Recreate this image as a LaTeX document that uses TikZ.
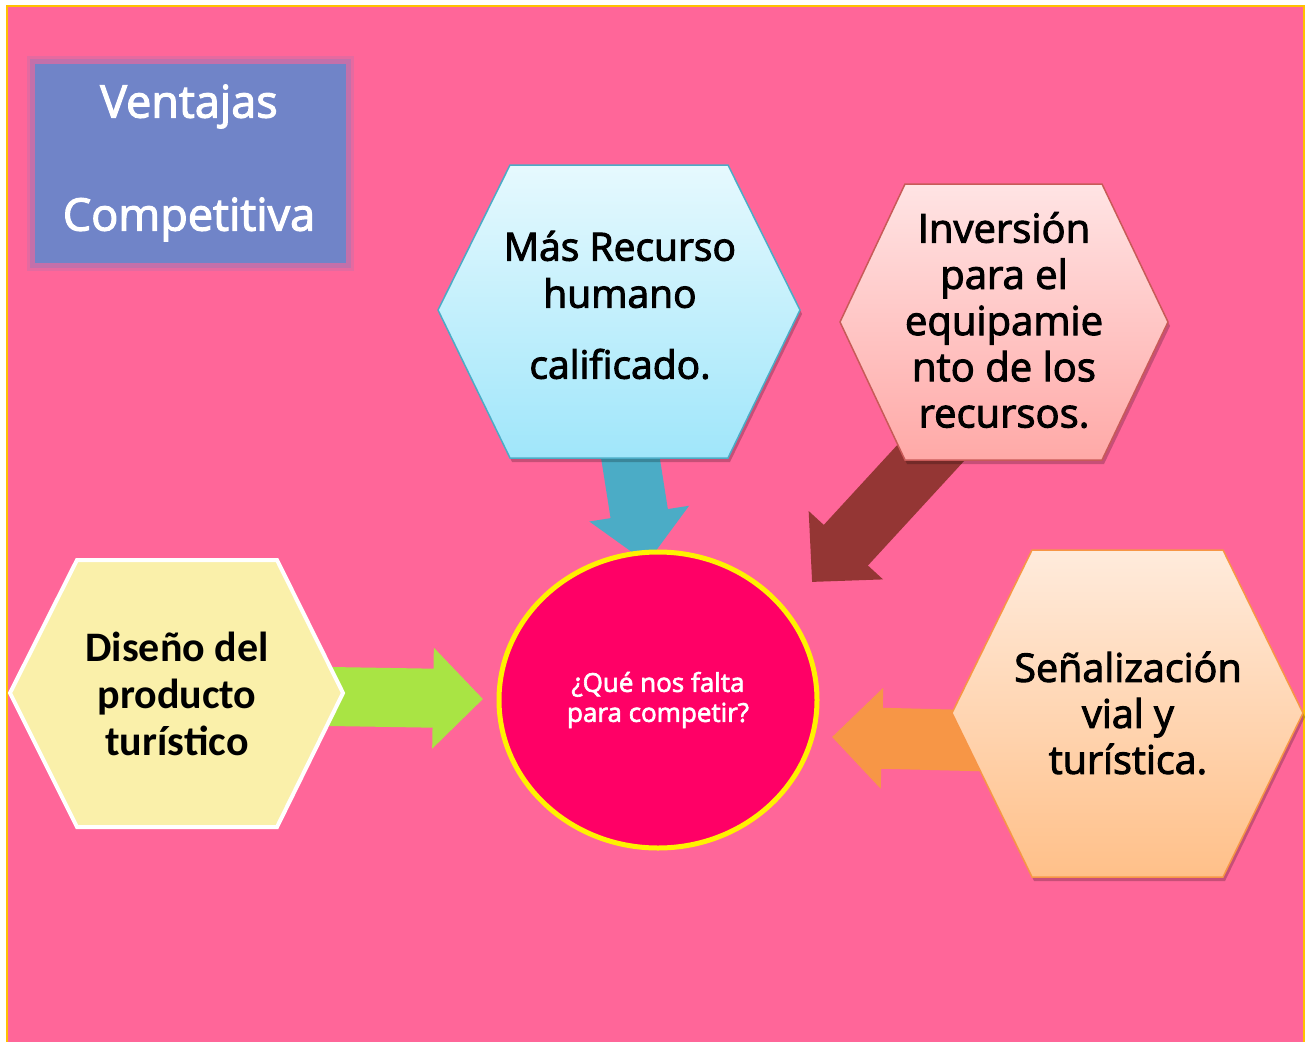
\documentclass[tikz,border=0pt]{standalone}
\usepackage{fontspec}
\setmainfont{Open Sans}[FakeBold=2.5]
\newfontfamily\boldcal{Carlito}[BoldFont={* Bold}]
\usetikzlibrary{arrows.meta,shapes.geometric}
\definecolor{bgpink}{HTML}{FF6699}
\definecolor{gold}{HTML}{FFC000}
\definecolor{boxblue}{HTML}{7084C8}
\definecolor{glow}{HTML}{9A78B8}
\definecolor{bhtop}{HTML}{E6F9FE}
\definecolor{bhbot}{HTML}{A0E6FA}
\definecolor{bhline}{HTML}{4BACC6}
\definecolor{phtop}{HTML}{FFE4E4}
\definecolor{phbot}{HTML}{FFA9A7}
\definecolor{phline}{HTML}{C85A58}
\definecolor{darkred}{HTML}{943634}
\definecolor{qfill}{HTML}{FF0066}
\definecolor{yhex}{HTML}{FAF0AA}
\definecolor{greenarr}{HTML}{A9E444}
\definecolor{ohtop}{HTML}{FFEBDC}
\definecolor{ohbot}{HTML}{FFC089}
\definecolor{orangearr}{HTML}{F79646}
\tikzset{
  blockarrow/.style={line width=#1, -{Triangle[length=50pt,width=98pt]}},
  hexshadow/.style={fill=black, opacity=0.22},
  hextext/.style={align=center, inner sep=0pt, text=black},
}
\begin{document}
\begin{tikzpicture}[x=1pt,y=-1pt]
\useasboundingbox (0,0) rectangle (1311,1041);
\fill[white] (0,0) rectangle (1311,1041);
% background panel
\fill[bgpink] (7,6) rectangle (1304,1045);
\draw[gold, line width=2.2pt] (7,1045) -- (7,6) -- (1304,6) -- (1304,1045);

% title box with soft glow
\fill[glow, opacity=0.25] (27,56) rectangle (354,271);
\fill[glow, opacity=0.45] (30,59) rectangle (351,268);
\fill[boxblue] (35,64) rectangle (346,263);
\node[align=center, text=white, inner sep=0pt,
      font=\fontsize{45}{113}\selectfont] (title) at (189,163) {Ventajas\\Competitiva};

% anchor coordinates for the arrows
\coordinate (bS) at (626,430);
\coordinate (bT) at (647,563);
\coordinate (pS) at (961,420);
\coordinate (pT) at (812,582);
\coordinate (yS) at (300,696);
\coordinate (yT) at (483,699);
\coordinate (oS) at (990,741);
\coordinate (oT) at (832,737);

% block arrows (drawn beneath the hexagons)
\draw[bhline, blockarrow=58pt] (bS) -- (bT);
\draw[darkred, blockarrow=60pt] (pS) -- (pT);
\draw[greenarr, blockarrow=59pt] (yS) -- (yT);
\draw[orangearr, blockarrow=61pt] (oS) -- (oT);

% blue hexagon
\fill[hexshadow] (512,169) -- (730,169) -- (802,314) -- (730,462) -- (512,462) -- (440,314) -- cycle;
\path[draw=bhline, line width=1.5pt, top color=bhtop, bottom color=bhbot]
  (510,165) -- (728,165) -- (800,310) -- (728,458) -- (510,458) -- (438,310) -- cycle;
\node[hextext, font=\fontsize{39}{47}\selectfont] (hB) at (620,305)
  {Más Recurso\\humano\\[24pt]calificado.};

% pink hexagon
\fill[hexshadow] (907,188) -- (1104,188) -- (1170,326) -- (1104,464) -- (907,464) -- (842,326) -- cycle;
\path[draw=phline, line width=1.5pt, top color=phtop, bottom color=phbot]
  (905,184) -- (1102,184) -- (1168,322) -- (1102,460) -- (905,460) -- (840,322) -- cycle;
\node[hextext, font=\fontsize{40}{46.2}\selectfont] (hP) at (1004,320)
  {Inversión\\para el\\equipamie\\nto de los\\recursos.};

% central ellipse
\node[ellipse, minimum width=318pt, minimum height=296pt, fill=qfill,
      draw=yellow, line width=5pt, align=center, text=white,
      font=\fontsize{26}{30}\selectfont] (q) at (658,700)
  {¿Qué nos falta\\para competir?};

% yellow hexagon
\path[draw=white, line width=4pt, fill=yhex]
  (77,560) -- (277,560) -- (343,693) -- (277,827) -- (77,827) -- (10,693) -- cycle;
\node[hextext, font=\boldcal\bfseries\fontsize{42}{47}\selectfont] (hY) at (177,694)
  {Diseño del\\producto\\turístico};

% peach hexagon
\fill[hexshadow] (1034,554) -- (1225,554) -- (1305,717) -- (1225,881) -- (1034,881) -- (954,717) -- cycle;
\path[draw=orangearr, line width=1.5pt, top color=ohtop, bottom color=ohbot]
  (1032,550) -- (1223,550) -- (1303,713) -- (1223,877) -- (1032,877) -- (952,713) -- cycle;
\node[hextext, font=\fontsize{39.5}{46}\selectfont] (hO) at (1128,713)
  {Señalización\\vial y\\turística.};
\end{tikzpicture}
\end{document}
